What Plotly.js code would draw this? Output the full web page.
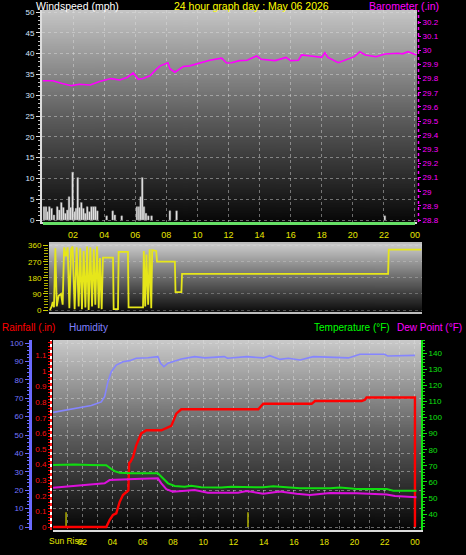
<!DOCTYPE html>
<html><head><meta charset="utf-8">
<script src="https://cdn.plot.ly/plotly-3.0.1.min.js"></script>
<style>html,body{margin:0;padding:0;background:#000;}#g{width:466px;height:555px;}</style>
</head><body><div id="g"></div>
<script>
// ---------- data ----------
const hourTickVals = [2,4,6,8,10,12,14,16,18,20,22,24];
const hourTickText = ['02','04','06','08','10','12','14','16','18','20','22','00'];

const windHours = [0.13,0.26,0.34,0.47,0.62,0.77,0.98,1.11,1.24,1.37,1.5,1.63,1.74,1.85,1.97,2.1,2.19,2.3,2.4,2.53,2.66,2.78,2.91,3.05,3.18,3.31,3.43,3.56,4.16,4.55,4.69,5.13,6.11,6.24,6.35,6.45,6.56,6.69,6.84,7.05,8.23,8.66,22.06];
const windSpeed = [3.2,3.2,2,3.2,2.8,1.2,3.2,2.4,4.2,3,1.6,2.4,5.6,3,11.5,2,2.8,10.2,3,4.2,2.8,1.6,3.2,2,3.2,3.2,3.2,2.2,1,2.2,1.2,1,3.2,3.2,5.6,10.2,3.2,1.6,1,1,2.2,2.2,1];

const baroHours = [0.05,0.7,1.3,1.9,2.4,3.1,3.7,4.45,5.0,5.5,5.87,6.2,6.5,6.95,7.3,7.6,8.1,8.23,8.55,9.09,9.5,10.16,10.8,11.56,11.88,12.2,12.7,13.2,13.8,14.1,15.0,15.7,16.0,16.5,16.7,17.3,18.0,18.2,18.4,19.06,19.7,20.1,20.45,20.8,21.5,22.06,22.9,23.2,23.55,24.1];
const baroValues = [29.785,29.785,29.765,29.75,29.76,29.755,29.78,29.80,29.79,29.81,29.84,29.795,29.80,29.82,29.86,29.89,29.912,29.87,29.845,29.885,29.89,29.912,29.93,29.944,29.91,29.912,29.927,29.93,29.96,29.937,29.927,29.95,29.927,29.93,29.967,29.96,29.95,29.983,29.95,29.912,29.937,29.955,29.99,29.967,29.955,29.974,29.979,29.975,29.99,29.967];
const baroTickVals = [28.8,28.9,29,29.1,29.2,29.3,29.4,29.5,29.6,29.7,29.8,29.9,30,30.1,30.2];
const baroTickText = ['28.8','28.9','29','29.1','29.2','29.3','29.4','29.5','29.6','29.7','29.8','29.9','30','30.1','30.2'];

const dirHours = [0.06,0.17,0.24,0.32,0.41,0.5,0.62,0.77,0.88,0.97,1.09,1.2,1.31,1.42,1.52,1.65,1.78,1.91,2.01,2.12,2.23,2.34,2.45,2.55,2.66,2.77,2.88,2.98,3.09,3.2,3.28,3.39,3.47,4.12,4.16,4.44,4.48,5.08,5.12,6.05,6.1,6.19,6.27,6.38,6.48,6.58,6.64,6.9,6.95,8.1,8.14,8.52,8.56,21.82,21.86,23.95];
const dirDegrees = [0,20,45,15,345,20,80,90,30,350,300,350,10,340,355,5,350,20,345,5,330,15,355,0,350,20,340,30,355,10,290,5,292.5,292.5,5,5,325,325,15,15,330,20,310,30,340,10,335,330,270,270,100,100,202.5,202.5,337.5,337.5];
const dirTickVals = [0,90,180,270,360];
const compassText = ['N','E','S','W','N'];

const humHours = [0.07,1.06,1.94,2.6,3.26,3.48,3.7,3.92,4.25,4.7,5.13,5.57,6.35,7.0,7.18,7.4,7.67,8.11,8.55,9.43,10.1,11.4,11.6,12.87,13.97,14.4,15.07,15.62,16.4,17.28,19.6,20.36,22.0,22.2,24.0];
const humValues = [62.3,63.6,64.9,66,68,70.8,79,84.4,88,89.8,90.4,91.7,92,92.6,89,87.1,89,90.2,91.3,92.6,91.9,92.6,91.7,92.6,91.9,93.1,91.1,91.7,90.8,92.6,91.9,93.9,93.9,92.9,93.3];

const rainHours = [0.07,3.59,3.81,4.03,4.25,4.47,4.69,4.98,5.05,5.1,5.2,5.36,5.57,5.9,6.24,7.23,7.89,8.22,8.55,13.64,13.97,17.17,17.39,20.48,20.69,20.8,24.0,24.0];
const rainValues = [0,0,0.045,0.077,0.088,0.16,0.205,0.226,0.235,0.41,0.42,0.45,0.524,0.6,0.62,0.62,0.648,0.727,0.755,0.755,0.79,0.79,0.808,0.808,0.816,0.83,0.83,0];

const tempHours = [0.07,1.5,2.5,3.59,3.92,4.14,4.47,5.24,7.0,7.34,7.67,8.11,8.77,9.21,9.87,11.19,11.85,13.97,14.63,16.4,18.38,19.04,20.15,22.13,22.57,24.1];
const tempValues = [70.5,70.8,70.5,70.3,68,66.7,65.7,65.3,65.3,62.2,59.1,57.4,57,57.6,56.6,56.5,57,56.6,57.2,56,56,56.5,55.5,55.5,54.5,54.5];

const dewHours = [0.07,1.94,3.48,3.81,4.58,5.46,7.0,7.23,7.56,8.0,9.43,10.3,12.3,12.87,13.97,15.07,16.18,17.06,18.38,20.15,22.13,22.68,24.1];
const dewValues = [56.3,57.6,59.1,61.1,61.5,61.8,62.2,59.1,55.5,53.9,54.9,53.3,53.3,54.3,52.6,54,52.6,51.8,53,52.9,52.2,51.2,50.4];

const sunMarkHours = [0.93, 12.96];
const sunMarkHeight = 8;

const humTickVals = [0,10,20,30,40,50,60,70,80,90,100];
const rainTickVals = [0,0.1,0.2,0.3,0.4,0.5,0.6,0.7,0.8,0.9,1,1.1,1.2];
const rainTickText = ['0','0.1','0.2','0.3','0.4','0.5','0.6','0.7','0.8','0.9','1','1.1','1.2'];
const tempTickVals = [40,50,60,70,80,90,100,110,120,130,140];
const windTickVals = [0,5,10,15,20,25,30,35,40,45,50];

// ---------- layout helpers ----------
const W = 466, H = 555;
const px = v => v / W, py = v => 1 - v / H;
const topX = [px(42), px(417)], topY = [py(222), py(10)];
const dirX = [px(49), px(422)], dirY = [py(312), py(244)];
const botX = [px(53), px(421)], botY = [py(530), py(340)];

function gradURL(stops){
  const c = document.createElement('canvas'); c.width = 4; c.height = 256;
  const g = c.getContext('2d'); const lg = g.createLinearGradient(0,0,0,256);
  stops.forEach(s => lg.addColorStop(s[0], s[1]));
  g.fillStyle = lg; g.fillRect(0,0,4,256); return c.toDataURL('image/png');
}
function bgImage(xd, yd, url){
  return {source:url, xref:'paper', yref:'paper', x:xd[0], y:yd[1], sizex:xd[1]-xd[0], sizey:yd[1]-yd[0],
          sizing:'stretch', xanchor:'left', yanchor:'top', layer:'below'};
}
const F = 'Liberation Sans, Arial, sans-serif';
const grid = 'rgba(225,225,225,0.45)';

const pairs = (xs) => { const o=[]; xs.forEach(v=>{o.push(v,v,null);}); return o; };
const pairsY = (xs, h) => { const o=[]; xs.forEach(()=>{o.push(0,h,null);}); return o; };

const traces = [
  {type:'bar', x:windHours, y:windSpeed, xaxis:'x', yaxis:'y', width:0.11,
   marker:{color:'#f2f2f2', line:{color:'#8a8a8a', width:0.5}}, hoverinfo:'skip'},
  {type:'scatter', mode:'lines', x:baroHours, y:baroValues, xaxis:'x', yaxis:'y2',
   line:{color:'#ff00ff', width:1.6}},
  {type:'scatter', mode:'lines', x:dirHours, y:dirDegrees, xaxis:'x2', yaxis:'y3',
   line:{color:'#e6e61a', width:1.8}},
  {type:'scatter', mode:'lines', x:humHours, y:humValues, xaxis:'x3', yaxis:'y5',
   line:{color:'#8585ff', width:1.6}},
  {type:'scatter', mode:'lines', x:pairs(sunMarkHours), y:pairsY(sunMarkHours, sunMarkHeight), xaxis:'x3', yaxis:'y5',
   line:{color:'#b0b000', width:1.5}},
  {type:'scatter', mode:'lines', x:tempHours, y:tempValues, xaxis:'x3', yaxis:'y7',
   line:{color:'#10dd10', width:2}},
  {type:'scatter', mode:'lines', x:dewHours, y:dewValues, xaxis:'x3', yaxis:'y7',
   line:{color:'#dd10dd', width:2}},
  {type:'scatter', mode:'lines', x:rainHours, y:rainValues, xaxis:'x3', yaxis:'y6',
   line:{color:'#ff0000', width:2.4}}
];

const ann = (text, x, y, color, xanchor, size) => ({text, x, y, xref:'paper', yref:'paper', showarrow:false,
  xanchor, yanchor:'middle', font:{family:F, size:size||10, color}});

const layout = {
  width:W, height:H, margin:{l:0,r:0,t:0,b:0}, paper_bgcolor:'#000', plot_bgcolor:'rgba(0,0,0,0)',
  showlegend:false, font:{family:F, size:8, color:'#fff'}, bargap:0,
  xaxis:{domain:topX, range:[0,24.13], anchor:'y', tickvals:hourTickVals, ticktext:hourTickText,
    tickfont:{color:'#e6e600', size:9, family:F}, ticks:'', ticklabelstandoff:3,
    showgrid:true, gridcolor:grid, griddash:'dot', zeroline:false,
    showline:true, linecolor:'#dcdcdc', linewidth:2},
  yaxis:{domain:topY, range:[-0.48,50.48], anchor:'x', tickvals:windTickVals,
    tickfont:{color:'#d6e6ff', size:8, family:F}, ticks:'outside', ticklen:4, tickcolor:'#e0e0e0',
    minor:{dtick:1, ticks:'outside', ticklen:2, tickcolor:'#c0c0c0', showgrid:false},
    showgrid:true, gridcolor:grid, griddash:'dot', zeroline:false,
    showline:true, linecolor:'#dcdcdc', linewidth:2},
  yaxis2:{overlaying:'y', side:'right', anchor:'x', range:[28.786,30.285], tickvals:baroTickVals, ticktext:baroTickText,
    tickfont:{color:'#ff00ff', size:8, family:F}, ticks:'outside', ticklen:3, tickcolor:'#ff00ff',
    showgrid:false, zeroline:false, showline:false},

  xaxis2:{domain:dirX, range:[0,24], anchor:'y3', showticklabels:false, ticks:'', showgrid:false, zeroline:false,
    showline:true, linecolor:'#bdbdbd', linewidth:2, mirror:true},
  yaxis3:{domain:dirY, range:[-11,369], anchor:'x2', tickvals:dirTickVals,
    tickfont:{color:'#e0e000', size:8, family:F}, ticks:'outside', ticklen:5, tickcolor:'#d0d000',
    minor:{dtick:15, ticks:'outside', ticklen:4, tickcolor:'#b0b000', showgrid:false},
    showgrid:true, gridcolor:'rgba(225,225,225,0.3)', griddash:'dot', zeroline:false, showline:false},
  yaxis4:{overlaying:'y3', side:'right', anchor:'x2', range:[-11,369], tickvals:dirTickVals, ticktext:compassText,
    tickfont:{color:'#ffff00', size:12, family:F}, ticks:'', ticklabelstandoff:12, showgrid:false, zeroline:false},

  xaxis3:{domain:botX, range:[0.066,24.4], anchor:'y5', tickvals:hourTickVals, ticktext:hourTickText,
    tickfont:{color:'#e6e600', size:8.5, family:F}, ticks:'', ticklabelstandoff:3,
    showgrid:true, gridcolor:grid, griddash:'dot', zeroline:false,
    minor:{tickvals:[1,3,5,7,9,11,13,15,17,19,21,23], showgrid:true, gridcolor:grid, griddash:'dot', ticks:''},
    showline:true, linecolor:'#dcdcdc', linewidth:2},
  yaxis5:{domain:botY, range:[-1.63,101.63], anchor:'free', position:px(30), side:'left', tickvals:humTickVals,
    tickfont:{color:'#7575ff', size:8, family:F}, ticks:'outside', ticklen:4, tickcolor:'#6a6aff',
    minor:{dtick:2, ticks:'outside', ticklen:2, tickcolor:'#6a6aff', showgrid:false},
    showgrid:true, gridcolor:grid, griddash:'dot', zeroline:false,
    showline:true, linecolor:'#6a6aff', linewidth:3},
  yaxis6:{overlaying:'y5', anchor:'free', position:px(50), side:'left', range:[-0.019,1.199], tickvals:rainTickVals, ticktext:rainTickText,
    tickfont:{color:'#ff1010', size:8, family:F}, ticks:'outside', ticklen:2, tickcolor:'#ff0000',
    minor:{dtick:0.02, ticks:'outside', ticklen:2, tickcolor:'#ff0000', showgrid:false},
    showgrid:false, zeroline:false, showline:false},
  yaxis7:{overlaying:'y5', anchor:'x3', side:'right', range:[30.04,148.3], tickvals:tempTickVals,
    tickfont:{color:'#10e010', size:8, family:F}, ticks:'outside', ticklen:4, tickcolor:'#10e010',
    minor:{dtick:2, ticks:'outside', ticklen:2, tickcolor:'#10e010', showgrid:false},
    showgrid:false, zeroline:false, showline:true, linecolor:'#10e010', linewidth:2},

  images:[
    bgImage(topX, topY, gradURL([[0,'#c6c6c6'],[0.5,'#5e5e5e'],[1,'#070707']])),
    bgImage(dirX, dirY, gradURL([[0,'#cccccc'],[0.5,'#6a6a6a'],[1,'#0c0c0c']])),
    bgImage(botX, botY, gradURL([[0,'#cacaca'],[0.5,'#5e5e5e'],[1,'#050505']]))
  ],
  shapes:[
    {type:'line', xref:'paper', yref:'paper', x0:px(43), x1:px(415), y0:py(223.5), y1:py(223.5), line:{color:'#66e066', width:3}},
    {type:'line', xref:'paper', yref:'paper', x0:px(418.5), x1:px(418.5), y0:topY[0], y1:topY[1], line:{color:'#ff00ff', width:1.5, dash:'dot'}},
    {type:'line', xref:'paper', yref:'paper', x0:px(51), x1:px(51), y0:botY[0], y1:botY[1], line:{color:'#ffffff', width:2}},
    {type:'line', xref:'paper', yref:'paper', x0:px(51), x1:px(51), y0:botY[0], y1:botY[1], line:{color:'#ff2020', width:2, dash:'dot'}}
  ],
  annotations:[
    ann('Windspeed (mph)', px(34), py(6), '#ffffff', 'left', 10.5),
    ann('24 hour graph day : May 06 2026', px(251), py(6), '#ffff00', 'center', 10.5),
    ann('Barometer (.in)', px(441), py(6), '#ff00ff', 'right', 10.5),
    ann('Rainfall (.in)', px(0), py(327), '#ff0000', 'left'),
    ann('Humidity', px(67), py(327), '#8080ff', 'left'),
    ann('Temperature (°F)', px(312), py(327), '#00ff00', 'left'),
    ann('Dew Point (°F)', px(464), py(327), '#ff00ff', 'right'),
    {text:'Sun Rise', x:sunMarkHours[0], xref:'x3', y:py(541), yref:'paper', showarrow:false, xanchor:'center', yanchor:'middle',
     font:{family:F, size:8.5, color:'#e6e600'}}
  ]
};

Plotly.newPlot('g', traces, layout, {staticPlot:true, displayModeBar:false});
</script>
</body></html>
